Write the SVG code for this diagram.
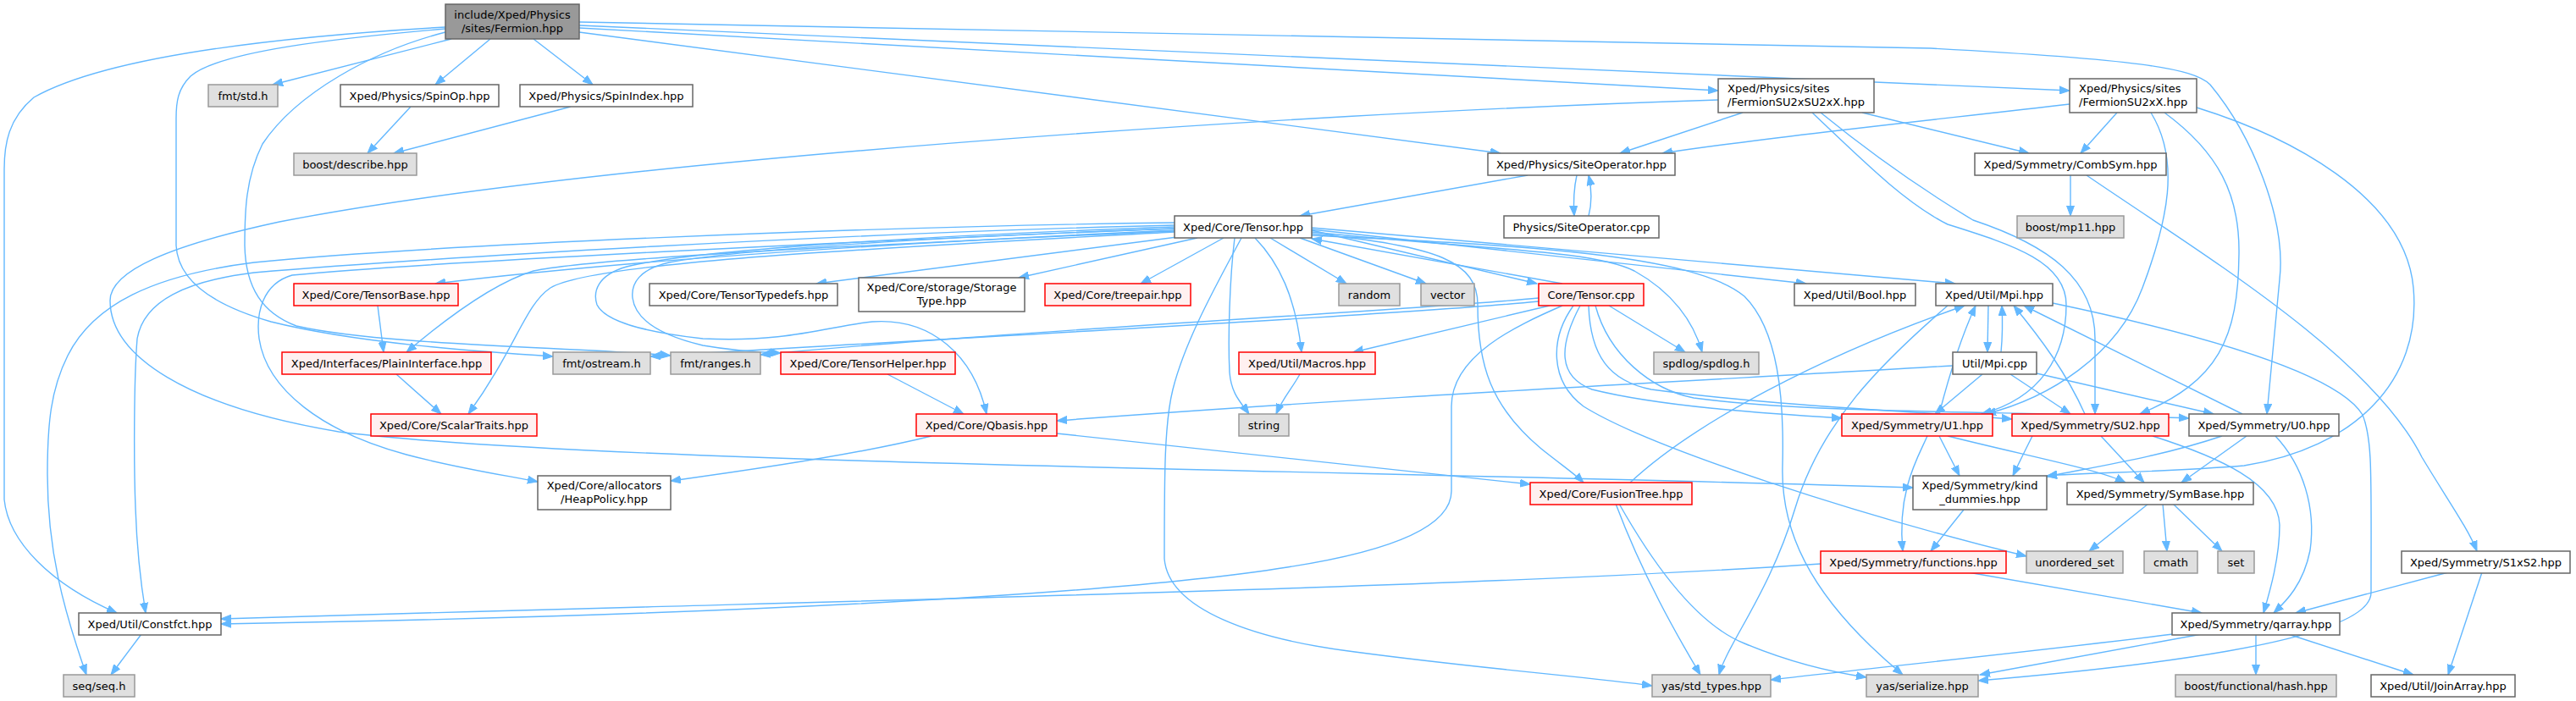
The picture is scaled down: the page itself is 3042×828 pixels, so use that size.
<svg xmlns="http://www.w3.org/2000/svg" width="3042" height="828" viewBox="0 0 3042 828">
<defs>
<marker id="a" markerWidth="13" markerHeight="10" refX="12" refY="5" orient="auto" markerUnits="userSpaceOnUse"><path d="M0,0.5 L12,5 L0,9.5 z" fill="#63b8ff" stroke="#63b8ff" stroke-width="1"/></marker>
<style>
.e{fill:none;stroke:#63b8ff;stroke-width:1.4;marker-end:url(#a)}
rect{stroke-width:1.5}
.w{fill:#ffffff;stroke:#666666}
.g{fill:#e0e0e0;stroke:#999999}
.r{fill:#fff0f0;stroke:#ff0000}
.root{fill:#999999;stroke:#666666}
text{font-family:"DejaVu Sans","Liberation Sans",sans-serif;font-size:13px;fill:#000;text-anchor:middle}
.l{text-anchor:start}
</style>
</defs>
<rect width="3042" height="828" fill="#ffffff"/>
<g id="edges">
<path class="e" d="M533,46 L322,100"/>
<path class="e" d="M579,46 L514,100"/>
<path class="e" d="M630,46 L700,100"/>
<path class="e" d="M485,126 L434,181"/>
<path class="e" d="M674,126 L465,181"/>
<path class="e" d="M684,33 L2029,107"/>
<path class="e" d="M684,30 L2444,107"/>
<path class="e" d="M684,26 L2280,57 C2520,70 2590,80 2610,100 C2660,160 2700,260 2692,330 L2677,489"/>
<path class="e" d="M684,38 L1772,181"/>
<path class="e" d="M526,32 C300,45 120,70 40,115 C10,140 5,170 5,200 L5,590 C10,640 60,690 138,724"/>
<path class="e" d="M526,34 C400,45 260,60 225,90 C210,105 208,120 208,140 L208,290 C210,330 250,360 320,380 C420,405 560,415 653,421"/>
<path class="e" d="M526,38 C440,60 350,110 310,170 C290,210 289,250 289,290 C290,340 310,370 350,385 C450,408 680,410 792,420"/>
<path class="e" d="M2029,118 C1500,135 700,190 330,262 C200,290 130,320 130,355 C130,420 220,480 400,510 C700,548 1600,555 2259,576"/>
<path class="e" d="M1387,263 C1000,268 500,290 300,310 C180,325 110,360 80,420 C60,460 56,500 56,560 C56,650 75,720 102,797"/>
<path class="e" d="M1387,266 C1000,275 500,305 300,322 C220,332 170,355 162,400 C158,450 158,550 160,600 C162,660 168,700 172,724"/>
<path class="e" d="M1387,270 C1000,285 500,310 345,325 C310,335 302,370 306,400 C315,460 380,510 480,537 C540,553 600,562 635,569"/>
<path class="e" d="M1387,272 C1100,285 760,305 514,335"/>
<path class="e" d="M1387,273 C1000,290 700,305 630,320 C590,332 540,365 480,416"/>
<path class="e" d="M1387,274 C1000,295 700,310 650,340 C620,360 610,410 553,489"/>
<path class="e" d="M1390,280 L964,335"/>
<path class="e" d="M1414,281 L1203,328"/>
<path class="e" d="M1445,281 L1347,335"/>
<path class="e" d="M1500,281 L1590,335"/>
<path class="e" d="M1535,281 L1684,335"/>
<path class="e" d="M1549,272 L1815,335"/>
<path class="e" d="M1845,335 L1549,282"/>
<path class="e" d="M1549,271 L2133,335"/>
<path class="e" d="M1549,269 L2309,335"/>
<path class="e" d="M1549,274 C1750,295 1880,295 1930,320 C1975,345 2000,380 2010,416"/>
<path class="e" d="M1549,276 C1700,290 1745,310 1745,360 C1745,430 1760,480 1820,530 C1845,550 1860,560 1870,570"/>
<path class="e" d="M1549,278 C1800,290 2000,300 2060,350 C2100,390 2107,470 2105,550 C2103,620 2130,700 2247,797"/>
<path class="e" d="M1482,281 C1510,310 1530,350 1537,416"/>
<path class="e" d="M1458,281 C1452,330 1450,400 1452,440 C1454,465 1465,475 1475,489"/>
<path class="e" d="M1466,281 C1440,330 1400,400 1385,460 C1375,500 1375,560 1375,660 C1380,720 1480,755 1600,770 C1750,790 1880,800 1951,810"/>
<path class="e" d="M1387,270 C1100,280 870,295 790,310 C755,318 745,335 747,352 C750,375 775,395 830,408 C870,415 900,416 922,417"/>
<path class="e" d="M1387,268 C1100,278 820,295 740,315 C705,325 700,345 705,360 C715,380 760,392 830,400 C930,405 980,385 1030,380 C1100,375 1150,420 1165,489"/>
<path class="e" d="M1817,356 C1650,372 1200,395 768,421"/>
<path class="e" d="M1817,352 C1650,368 1200,390 898,419"/>
<path class="e" d="M1830,361 L1598,416"/>
<path class="e" d="M1845,361 C1790,385 1714,420 1714,480 L1714,580 C1714,620 1650,650 1520,670 C1300,705 800,728 261,737"/>
<path class="e" d="M1858,361 C1830,400 1830,450 1870,480 C1950,530 2200,610 2393,657"/>
<path class="e" d="M1866,361 C1840,410 1840,445 1880,460 C1960,480 2080,488 2175,494"/>
<path class="e" d="M1876,361 C1878,420 1900,450 1950,460 C2100,480 2250,485 2376,495"/>
<path class="e" d="M1884,361 C1900,420 1950,460 2000,470 C2150,490 2400,485 2585,494"/>
<path class="e" d="M1900,361 L1990,416"/>
<path class="e" d="M2348,361 L2347,416"/>
<path class="e" d="M2363,416 C2365,395 2365,380 2364,361"/>
<path class="e" d="M2306,432 C2000,450 1600,470 1248,497"/>
<path class="e" d="M2341,442 L2285,489"/>
<path class="e" d="M2374,442 L2445,489"/>
<path class="e" d="M2405,441 L2614,489"/>
<path class="e" d="M2300,361 C2220,430 2150,500 2120,600 C2090,700 2040,760 2030,797"/>
<path class="e" d="M2424,358 C2600,395 2760,440 2790,490 C2802,520 2800,560 2800,700 C2800,760 2500,790 2336,804"/>
<path class="e" d="M1925,570 C2000,500 2150,420 2320,361"/>
<path class="e" d="M2290,489 C2300,450 2315,400 2333,361"/>
<path class="e" d="M2462,489 C2440,440 2410,400 2378,361"/>
<path class="e" d="M2648,489 L2390,361"/>
<path class="e" d="M2058,133 L1913,181"/>
<path class="e" d="M2199,133 L2396,181"/>
<path class="e" d="M2140,133 C2200,190 2250,240 2300,265 C2380,290 2440,310 2440,360 C2440,420 2410,470 2340,489"/>
<path class="e" d="M2150,133 C2220,190 2280,230 2330,260 C2420,290 2474,330 2474,400 L2474,489"/>
<path class="e" d="M2444,123 C2300,140 2100,160 1963,181"/>
<path class="e" d="M2500,133 L2457,181"/>
<path class="e" d="M2540,133 C2575,190 2560,260 2530,340 C2500,420 2420,470 2345,489"/>
<path class="e" d="M2556,133 C2620,180 2645,230 2644,300 C2643,400 2620,450 2527,489"/>
<path class="e" d="M2594,127 C2700,160 2840,230 2850,340 C2860,450 2780,530 2650,550 C2550,558 2470,558 2417,562"/>
<path class="e" d="M2445,207 L2445,255"/>
<path class="e" d="M2464,207 C2600,300 2800,420 2860,540 C2890,590 2915,625 2925,651"/>
<path class="e" d="M1804,207 L1535,255"/>
<path class="e" d="M1862,207 C1858,225 1858,240 1859,255"/>
<path class="e" d="M1876,255 C1880,240 1880,225 1876,207"/>
<path class="e" d="M446,361 L453,416"/>
<path class="e" d="M468,442 L521,489"/>
<path class="e" d="M1048,442 L1138,489"/>
<path class="e" d="M1100,515 C1000,540 850,560 792,568"/>
<path class="e" d="M1248,512 C1500,540 1700,560 1807,572"/>
<path class="e" d="M1535,442 C1525,460 1515,470 1507,489"/>
<path class="e" d="M1908,595 C1940,680 1980,750 2008,797"/>
<path class="e" d="M1912,595 C1960,680 2010,740 2060,760 C2120,785 2170,795 2204,800"/>
<path class="e" d="M2300,515 C2400,540 2480,555 2510,570"/>
<path class="e" d="M2290,515 L2314,562"/>
<path class="e" d="M2400,515 C2390,535 2385,545 2377,562"/>
<path class="e" d="M2481,515 L2532,570"/>
<path class="e" d="M2542,515 C2620,540 2690,570 2692,620 C2692,660 2680,700 2673,724"/>
<path class="e" d="M2276,515 C2265,540 2240,580 2247,651"/>
<path class="e" d="M2653,515 L2576,570"/>
<path class="e" d="M2624,515 C2550,540 2470,552 2417,563"/>
<path class="e" d="M2687,515 C2720,550 2735,600 2728,650 C2720,690 2700,710 2685,724"/>
<path class="e" d="M2319,602 L2280,651"/>
<path class="e" d="M2324,676 L2600,724"/>
<path class="e" d="M2150,666 C1800,690 1200,705 760,717 C600,721 400,727 261,731"/>
<path class="e" d="M2537,595 L2467,651"/>
<path class="e" d="M2554,595 L2559,651"/>
<path class="e" d="M2566,595 L2624,651"/>
<path class="e" d="M2891,676 L2711,724"/>
<path class="e" d="M2931,676 L2891,797"/>
<path class="e" d="M2664,749 L2664,797"/>
<path class="e" d="M2702,749 L2850,797"/>
<path class="e" d="M2600,749 L2338,797"/>
<path class="e" d="M2566,749 C2400,770 2200,790 2091,803"/>
<path class="e" d="M167,749 L131,797"/>
</g>
<g id="n_fermion"><rect class="root" x="526" y="5" width="158" height="41"/><text x="605" y="21.5">include/Xped/Physics</text><text x="605" y="37.5">/sites/Fermion.hpp</text></g>
<g id="n_fmtstd"><rect class="g" x="246" y="100" width="82" height="26"/><text x="287" y="117.5">fmt/std.h</text></g>
<g id="n_spinop"><rect class="w" x="402" y="100" width="187" height="26"/><text x="495.5" y="117.5">Xped/Physics/SpinOp.hpp</text></g>
<g id="n_spinindex"><rect class="w" x="614" y="100" width="204" height="26"/><text x="716" y="117.5">Xped/Physics/SpinIndex.hpp</text></g>
<g id="n_fsu2su2"><rect class="w" x="2029" y="93" width="184" height="40"/><text class="l" x="2040" y="109">Xped/Physics/sites</text><text class="l" x="2040" y="125">/FermionSU2xSU2xX.hpp</text></g>
<g id="n_fsu2x"><rect class="w" x="2444" y="93" width="150" height="40"/><text class="l" x="2455" y="109">Xped/Physics/sites</text><text class="l" x="2455" y="125">/FermionSU2xX.hpp</text></g>
<g id="n_describe"><rect class="g" x="347" y="181" width="145" height="26"/><text x="419.5" y="198.5">boost/describe.hpp</text></g>
<g id="n_siteoph"><rect class="w" x="1757" y="181" width="221" height="26"/><text x="1867.5" y="198.5">Xped/Physics/SiteOperator.hpp</text></g>
<g id="n_combsym"><rect class="w" x="2332" y="181" width="226" height="26"/><text x="2445" y="198.5">Xped/Symmetry/CombSym.hpp</text></g>
<g id="n_tensorh"><rect class="w" x="1387" y="255" width="162" height="26"/><text x="1468" y="272.5">Xped/Core/Tensor.hpp</text></g>
<g id="n_siteopcpp"><rect class="w" x="1776" y="255" width="183" height="26"/><text x="1867.5" y="272.5">Physics/SiteOperator.cpp</text></g>
<g id="n_mp11"><rect class="g" x="2382" y="255" width="126" height="26"/><text x="2445" y="272.5">boost/mp11.hpp</text></g>
<g id="n_tensorbase"><rect class="r" x="347" y="335" width="194" height="26"/><text x="444" y="352.5">Xped/Core/TensorBase.hpp</text></g>
<g id="n_typedefs"><rect class="w" x="767" y="335" width="222" height="26"/><text x="878" y="352.5">Xped/Core/TensorTypedefs.hpp</text></g>
<g id="n_storage"><rect class="w" x="1014" y="328" width="196" height="40"/><text x="1112" y="344">Xped/Core/storage/Storage</text><text x="1112" y="360">Type.hpp</text></g>
<g id="n_treepair"><rect class="r" x="1234" y="335" width="172" height="26"/><text x="1320" y="352.5">Xped/Core/treepair.hpp</text></g>
<g id="n_random"><rect class="g" x="1581" y="335" width="72" height="26"/><text x="1617" y="352.5">random</text></g>
<g id="n_vector"><rect class="g" x="1678" y="335" width="63" height="26"/><text x="1709.5" y="352.5">vector</text></g>
<g id="n_tensorcpp"><rect class="r" x="1817" y="335" width="124" height="26"/><text x="1879" y="352.5">Core/Tensor.cpp</text></g>
<g id="n_bool"><rect class="w" x="2119" y="335" width="143" height="26"/><text x="2190.5" y="352.5">Xped/Util/Bool.hpp</text></g>
<g id="n_mpih"><rect class="w" x="2286" y="335" width="138" height="26"/><text x="2355" y="352.5">Xped/Util/Mpi.hpp</text></g>
<g id="n_plain"><rect class="r" x="333" y="416" width="247" height="26"/><text x="456.5" y="433.5">Xped/Interfaces/PlainInterface.hpp</text></g>
<g id="n_ostream"><rect class="g" x="653" y="416" width="115" height="26"/><text x="710.5" y="433.5">fmt/ostream.h</text></g>
<g id="n_ranges"><rect class="g" x="792" y="416" width="106" height="26"/><text x="845" y="433.5">fmt/ranges.h</text></g>
<g id="n_helper"><rect class="r" x="922" y="416" width="206" height="26"/><text x="1025" y="433.5">Xped/Core/TensorHelper.hpp</text></g>
<g id="n_macros"><rect class="r" x="1463" y="416" width="161" height="26"/><text x="1543.5" y="433.5">Xped/Util/Macros.hpp</text></g>
<g id="n_spdlog"><rect class="g" x="1953" y="416" width="124" height="26"/><text x="2015" y="433.5">spdlog/spdlog.h</text></g>
<g id="n_mpicpp"><rect class="w" x="2306" y="416" width="99" height="26"/><text x="2355.5" y="433.5">Util/Mpi.cpp</text></g>
<g id="n_scalar"><rect class="r" x="438" y="489" width="196" height="26"/><text x="536" y="506.5">Xped/Core/ScalarTraits.hpp</text></g>
<g id="n_qbasis"><rect class="r" x="1082" y="489" width="166" height="26"/><text x="1165" y="506.5">Xped/Core/Qbasis.hpp</text></g>
<g id="n_string"><rect class="g" x="1463" y="489" width="59" height="26"/><text x="1492.5" y="506.5">string</text></g>
<g id="n_u1"><rect class="r" x="2175" y="489" width="178" height="26"/><text x="2264" y="506.5">Xped/Symmetry/U1.hpp</text></g>
<g id="n_su2"><rect class="r" x="2376" y="489" width="185" height="26"/><text x="2468.5" y="506.5">Xped/Symmetry/SU2.hpp</text></g>
<g id="n_u0"><rect class="w" x="2585" y="489" width="177" height="26"/><text x="2673.5" y="506.5">Xped/Symmetry/U0.hpp</text></g>
<g id="n_heap"><rect class="w" x="635" y="562" width="157" height="40"/><text x="713.5" y="578">Xped/Core/allocators</text><text x="713.5" y="594">/HeapPolicy.hpp</text></g>
<g id="n_fusion"><rect class="r" x="1807" y="570" width="191" height="26"/><text x="1902.5" y="587.5">Xped/Core/FusionTree.hpp</text></g>
<g id="n_kind"><rect class="w" x="2259" y="562" width="158" height="40"/><text x="2338" y="578">Xped/Symmetry/kind</text><text x="2338" y="594">_dummies.hpp</text></g>
<g id="n_symbase"><rect class="w" x="2441" y="570" width="220" height="26"/><text x="2551" y="587.5">Xped/Symmetry/SymBase.hpp</text></g>
<g id="n_functions"><rect class="r" x="2150" y="651" width="219" height="26"/><text x="2259.5" y="668.5">Xped/Symmetry/functions.hpp</text></g>
<g id="n_unordered"><rect class="g" x="2393" y="651" width="114" height="26"/><text x="2450" y="668.5">unordered_set</text></g>
<g id="n_cmath"><rect class="g" x="2532" y="651" width="63" height="26"/><text x="2563.5" y="668.5">cmath</text></g>
<g id="n_set"><rect class="g" x="2619" y="651" width="43" height="26"/><text x="2640.5" y="668.5">set</text></g>
<g id="n_s1xs2"><rect class="w" x="2836" y="651" width="199" height="26"/><text x="2935.5" y="668.5">Xped/Symmetry/S1xS2.hpp</text></g>
<g id="n_constfct"><rect class="w" x="93" y="724" width="168" height="26"/><text x="177" y="741.5">Xped/Util/Constfct.hpp</text></g>
<g id="n_qarray"><rect class="w" x="2565" y="724" width="198" height="26"/><text x="2664" y="741.5">Xped/Symmetry/qarray.hpp</text></g>
<g id="n_seq"><rect class="g" x="75" y="797" width="84" height="26"/><text x="117" y="814.5">seq/seq.h</text></g>
<g id="n_yasstd"><rect class="g" x="1951" y="797" width="140" height="26"/><text x="2021" y="814.5">yas/std_types.hpp</text></g>
<g id="n_yasser"><rect class="g" x="2204" y="797" width="132" height="26"/><text x="2270" y="814.5">yas/serialize.hpp</text></g>
<g id="n_hash"><rect class="g" x="2569" y="797" width="190" height="26"/><text x="2664" y="814.5">boost/functional/hash.hpp</text></g>
<g id="n_joinarray"><rect class="w" x="2800" y="797" width="170" height="26"/><text x="2885" y="814.5">Xped/Util/JoinArray.hpp</text></g>
</svg>
